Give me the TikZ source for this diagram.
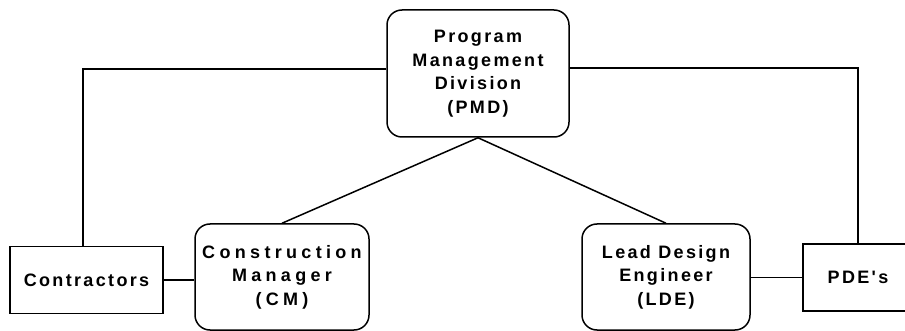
\documentclass[tikz,border=0pt]{standalone}
\usepackage{fontspec}
\setmainfont{Liberation Sans}[BoldFont={* Bold}]
\newfontfamily\lsA{Liberation Sans Bold}[LetterSpace=13]
\newfontfamily\lsB{Liberation Sans Bold}[LetterSpace=24]
\begin{document}
\begin{tikzpicture}[x=1pt,y=-1pt,
  line width=1.5pt,
  box/.style={draw, line width=1.5pt, inner sep=0pt, align=center,
    font=\fontsize{18}{23.5}\lsA},
  rbox/.style={box, rounded corners=15pt}]
\clip (0,0) rectangle (905,331);
\useasboundingbox (0,0) rectangle (905,331);
\node[rbox, minimum width=182pt, minimum height=127pt] (pmd) at (478,73.5)
  {Program\\Management\\Division\\(PMD)};
\node[box, minimum width=153pt, minimum height=67pt] (con) at (86.5,280)
  {Contractors};
\node[rbox, minimum width=174pt, minimum height=106pt, font=\fontsize{18}{23.5}\lsB] (cm) at (282,277)
  {Construction\\Manager\\(CM)};
\node[rbox, minimum width=168pt, minimum height=106pt] (lde) at (666,277)
  {Lead Design\\Engineer\\(LDE)};
\node[box, minimum width=110pt, minimum height=67pt] (pde) at (858,277.5)
  {PDE's};
\coordinate (lc) at (83,69);
\coordinate (rc) at (858,68);
\draw (pmd.west |- lc) -- (lc) -- (lc |- con.north);
\draw (pmd.east |- rc) -- (rc) -- (pde.north);
\draw (pmd.south) -- (cm.north);
\draw (pmd.south) -- (lde.north);
\draw (con.east) -- (con.east -| cm.west);
\draw (pde.west -| lde.east) -- (pde.west);
\end{tikzpicture}
\end{document}
